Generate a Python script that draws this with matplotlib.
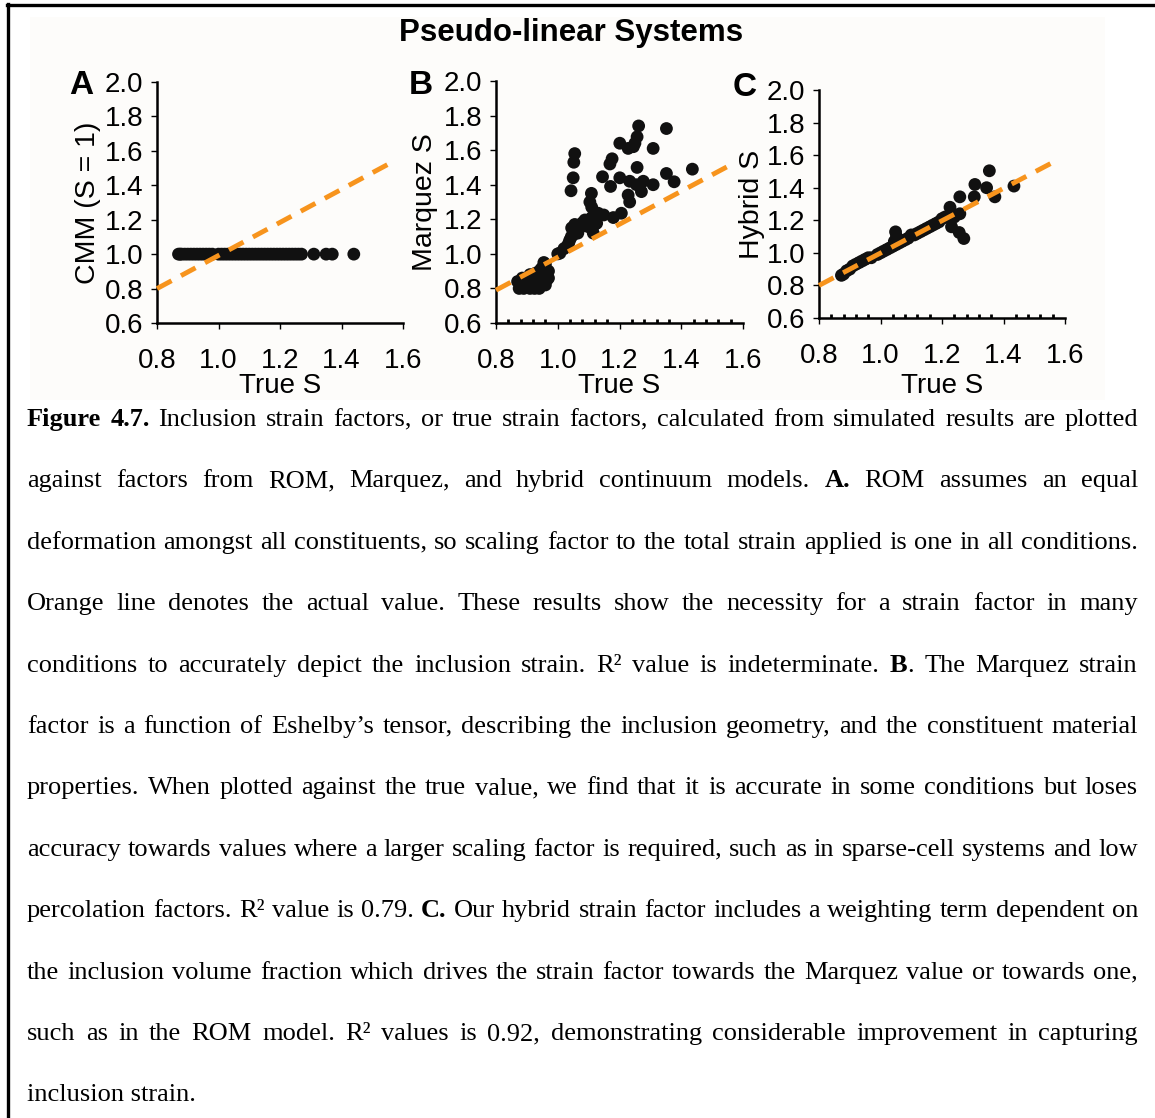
import matplotlib
matplotlib.use('Agg')
import matplotlib.pyplot as plt
from matplotlib.ticker import MultipleLocator, FormatStrFormatter
from matplotlib.patches import Rectangle
from matplotlib.lines import Line2D

W, H = 1155, 1118

# ---- data ----
cmm_true = [0.87, 0.875, 0.88, 0.89, 0.90, 0.91, 0.92, 0.93, 0.94, 0.95, 0.96, 0.97,
            0.98, 1.00, 1.01, 1.02, 1.03, 1.04, 1.05, 1.06, 1.07, 1.08, 1.09, 1.10,
            1.11, 1.12, 1.13, 1.14, 1.15, 1.16, 1.17, 1.18, 1.19, 1.20, 1.21, 1.22,
            1.23, 1.24, 1.25, 1.26, 1.27, 1.31, 1.35, 1.37, 1.44]
cmm_s = [1.0] * len(cmm_true)

marquez_true = [0.87, 0.875, 0.88, 0.885, 0.89, 0.895, 0.90, 0.90, 0.91, 0.91, 0.915, 0.92,
                0.92, 0.925, 0.93, 0.93, 0.935, 0.94, 0.94, 0.945, 0.95, 0.95, 0.955, 0.96,
                0.96, 0.96, 0.965, 0.97, 0.97,
                1.00, 1.007, 1.02, 1.028, 1.035, 1.039, 1.044, 1.05, 1.045, 1.055, 1.061,
                1.065, 1.07, 1.077, 1.08, 1.088, 1.095, 1.099, 1.105, 1.11, 1.115, 1.12,
                1.126, 1.131, 1.149, 1.18, 1.206,
                1.043, 1.05, 1.052, 1.055, 1.104, 1.109, 1.11, 1.145, 1.169, 1.176, 1.171,
                1.201, 1.201, 1.228, 1.228, 1.233, 1.233, 1.245, 1.25, 1.257, 1.262, 1.257,
                1.255, 1.271, 1.277, 1.309, 1.309, 1.352, 1.352, 1.377, 1.436]
marquez_s = [0.84, 0.80, 0.82, 0.86, 0.80, 0.83, 0.85, 0.81, 0.80, 0.88, 0.84, 0.87,
             0.82, 0.80, 0.82, 0.89, 0.85, 0.86, 0.80, 0.91, 0.92, 0.84, 0.95, 0.88,
             0.94, 0.82, 0.85, 0.86, 0.90,
             1.00, 1.004, 1.03, 1.04, 1.06, 1.08, 1.10, 1.11, 1.15, 1.17, 1.138,
             1.12, 1.15, 1.158, 1.18, 1.196, 1.17, 1.157, 1.19, 1.21, 1.12, 1.17,
             1.177, 1.235, 1.225, 1.21, 1.235,
             1.365, 1.44, 1.53, 1.58, 1.30, 1.35, 1.27, 1.446, 1.52, 1.55, 1.39,
             1.44, 1.64, 1.61, 1.34, 1.30, 1.42, 1.62, 1.64, 1.677, 1.74, 1.50,
             1.40, 1.36, 1.42, 1.40, 1.61, 1.725, 1.465, 1.417, 1.49]

hybrid_true = [0.873, 0.88, 0.89, 0.90, 0.91, 0.92, 0.93, 0.94, 0.95, 0.96, 0.97, 0.99,
               1.00, 1.01, 1.02, 1.03, 1.04, 1.045, 1.05, 1.055, 1.049, 1.052, 1.06, 1.07,
               1.08, 1.09, 1.10, 1.11, 1.12, 1.13, 1.14, 1.15, 1.16, 1.17, 1.18, 1.19,
               1.20, 1.21, 1.22, 1.226, 1.23, 1.24, 1.231, 1.256, 1.271, 1.258, 1.258,
               1.305, 1.307, 1.354, 1.345, 1.372, 1.434]
hybrid_s = [0.862, 0.87, 0.89, 0.90, 0.92, 0.93, 0.94, 0.95, 0.96, 0.97, 0.97, 0.99,
            1.00, 1.01, 1.02, 1.03, 1.04, 1.07, 1.05, 1.09, 1.129, 1.10, 1.06, 1.07,
            1.08, 1.09, 1.11, 1.11, 1.12, 1.13, 1.14, 1.15, 1.16, 1.17, 1.18, 1.19,
            1.21, 1.22, 1.22, 1.28, 1.24, 1.22, 1.16, 1.125, 1.088, 1.344, 1.24,
            1.344, 1.42, 1.504, 1.40, 1.344, 1.41]

# orange reference line end points per panel
ref_x = [[0.8, 1.565], [0.8, 1.555], [0.8, 1.565]]
ref_y = [[0.8, 1.535], [0.79, 1.51], [0.8, 1.56]]

panel_letters = ['A', 'B', 'C']
y_labels = ['CMM (S = 1)', 'Marquez S', 'Hybrid S']
x_label = 'True S'
title = 'Pseudo-linear Systems'

caption_lines = [
    "*Figure* *4.7.* Inclusion strain factors, or true strain factors, calculated from simulated results are plotted",
    "against factors from ROM, Marquez, and hybrid continuum models. *A.* ROM assumes an equal",
    "deformation amongst all constituents, so scaling factor to the total strain applied is one in all conditions.",
    "Orange line denotes the actual value. These results show the necessity for a strain factor in many",
    "conditions to accurately depict the inclusion strain. R\u00b2 value is indeterminate. *B*. The Marquez strain",
    "factor is a function of Eshelby\u2019s tensor, describing the inclusion geometry, and the constituent material",
    "properties. When plotted against the true value, we find that it is accurate in some conditions but loses",
    "accuracy towards values where a larger scaling factor is required, such as in sparse-cell systems and low",
    "percolation factors. R\u00b2 value is 0.79. *C.* Our hybrid strain factor includes a weighting term dependent on",
    "the inclusion volume fraction which drives the strain factor towards the Marquez value or towards one,",
    "such as in the ROM model. R\u00b2 values is 0.92, demonstrating considerable improvement in capturing",
    "inclusion strain.",
]

# ---- figure ----
plt.rcParams['font.family'] = ['Liberation Sans', 'DejaVu Sans']
fig = plt.figure(figsize=(W / 100, H / 100), dpi=100, facecolor='white')

def fx(px):
    return px / W

def fy(py):
    return 1 - py / H

# light chart background and frame
fig.patches.append(Rectangle((fx(30), fy(400)), fx(1105) - fx(30), fy(17) - fy(400),
                             transform=fig.transFigure, facecolor='#fdfcfa', edgecolor='none', zorder=-5))
fig.lines.append(Line2D([fx(7), 1.0], [fy(5), fy(5)], transform=fig.transFigure, color='black', lw=2.4))
fig.lines.append(Line2D([fx(8), fx(8)], [fy(4), 0.0], transform=fig.transFigure, color='black', lw=2.4))

fig.text(fx(571), fy(33), title, ha='center', va='center', fontsize=22.5, fontweight='bold')

# axes boxes: left, right, top, bottom in pixels
boxes = [(157, 403, 82, 323), (496, 743, 81, 323), (819, 1065, 90, 318)]
letter_pos = [(81, 85), (421, 85), (745, 87)]
ylabel_x = [88, 425, 752]
series = [(cmm_true, cmm_s), (marquez_true, marquez_s), (hybrid_true, hybrid_s)]
fs = 20

for i, (l, r, t, b) in enumerate(boxes):
    ax = fig.add_axes([fx(l), fy(b), fx(r) - fx(l), fy(t) - fy(b)])
    ax.set_facecolor('none')
    xs, ys = series[i]
    ax.scatter(xs, ys, s=85, color='#111111', edgecolors='none', zorder=2, clip_on=False)
    ax.plot(ref_x[i], ref_y[i], color='#f7941d', lw=3.5, dashes=(3.4, 2.2), zorder=3,
            solid_capstyle='butt', clip_on=False)
    ax.set_xlim(0.8, 1.6)
    ax.set_ylim(0.6, 2.0)
    ax.spines[['top', 'right']].set_visible(False)
    for s in ['left', 'bottom']:
        ax.spines[s].set_linewidth(1.8)
    ax.xaxis.set_major_locator(MultipleLocator(0.2))
    ax.yaxis.set_major_locator(MultipleLocator(0.2))
    ax.xaxis.set_major_formatter(FormatStrFormatter('%.1f'))
    ax.yaxis.set_major_formatter(FormatStrFormatter('%.1f'))
    ax.tick_params(axis='both', which='major', labelsize=fs, width=1, length=4, direction='out')
    ax.tick_params(axis='x', which='major', pad=14)
    ax.tick_params(axis='y', which='major', pad=6)
    if i > 0:
        ax.xaxis.set_minor_locator(MultipleLocator(0.04))
        ax.tick_params(axis='x', which='minor', direction='in', length=3, width=2)
    ax.set_xlabel(x_label, fontsize=fs)
    ax.xaxis.set_label_coords(0.5, -(373 - b) / (b - t))
    ax.xaxis.label.set_va('top')
    ax.set_ylabel(y_labels[i], fontsize=fs + 0.5)
    ax.yaxis.set_label_coords((ylabel_x[i] - l) / (r - l), 0.5)
    ax.yaxis.label.set_va('center')
    lx, ly = letter_pos[i]
    fig.text(fx(lx), fy(ly), panel_letters[i], ha='center', va='center',
             fontsize=24, fontweight='bold')

# ---- justified caption ----
cap_fs = 19
cap_left, cap_right = 27, 1138
renderer = fig.canvas.get_renderer()
for i, line in enumerate(caption_lines):
    yb = fy(426 + 61.4 * i)
    if i == len(caption_lines) - 1:
        fig.text(fx(cap_left), yb, line, fontsize=cap_fs, family='Liberation Serif',
                 va='baseline', ha='left')
        continue
    words = []
    total = 0.0
    for w in line.split(' '):
        parts = w.split('*')
        runs = []
        for k, p in enumerate(parts):
            if not p:
                continue
            txt = fig.text(0, yb, p, fontsize=cap_fs, family='Liberation Serif',
                           fontweight='bold' if k % 2 == 1 else 'normal',
                           va='baseline', ha='left')
            wd = txt.get_window_extent(renderer).width
            runs.append((txt, wd))
            total += wd
        words.append(runs)
    gap = (cap_right - cap_left - total) / (len(words) - 1)
    x = cap_left
    for runs in words:
        for txt, wd in runs:
            txt.set_x(fx(x))
            x += wd
        x += gap

fig.savefig('out.png', dpi=100, facecolor='white')
